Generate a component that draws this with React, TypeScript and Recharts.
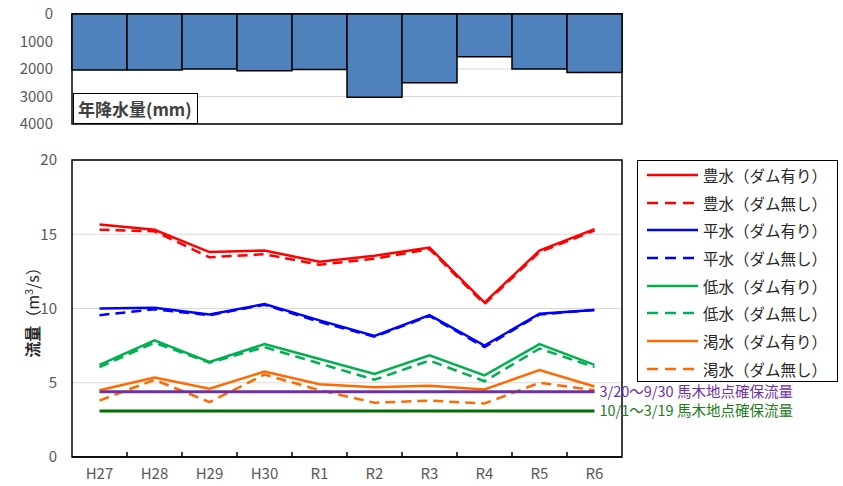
import { BarChart, Bar, LineChart, Line, XAxis, YAxis, CartesianGrid, ReferenceArea, Label } from "recharts";

const years = ["H27", "H28", "H29", "H30", "R1", "R2", "R3", "R4", "R5", "R6"];
const rainfall = [2040, 2040, 2000, 2060, 2020, 3030, 2500, 1550, 2000, 2130];

const hosuiDam = [15.65, 15.3, 13.8, 13.9, 13.15, 13.55, 14.1, 10.4, 13.9, 15.35];
const hosuiNoDam = [15.3, 15.2, 13.45, 13.65, 12.95, 13.35, 14.0, 10.3, 13.8, 15.25];
const heisuiDam = [10.0, 10.05, 9.6, 10.3, 9.2, 8.15, 9.55, 7.5, 9.65, 9.9];
const heisuiNoDam = [9.55, 9.95, 9.55, 10.25, 9.1, 8.1, 9.5, 7.4, 9.6, 9.9];
const teisuiDam = [6.2, 7.85, 6.4, 7.6, 6.6, 5.6, 6.85, 5.5, 7.6, 6.2];
const teisuiNoDam = [6.05, 7.7, 6.35, 7.4, 6.3, 5.2, 6.5, 5.1, 7.3, 6.05];
const kassuiDam = [4.5, 5.35, 4.6, 5.75, 4.9, 4.7, 4.8, 4.55, 5.85, 4.75];
const kassuiNoDam = [3.8, 5.2, 3.7, 5.55, 4.5, 3.65, 3.8, 3.6, 5.0, 4.5];

const summerFlow = 4.4;
const winterFlow = 3.1;

const rainTicks = [0, 1000, 2000, 3000, 4000];
const flowTicks = [0, 5, 10, 15, 20];

const series = [
  { key: "hosuiDam", name: "豊水（ダム有り）", values: hosuiDam, color: "#FF0000", dashed: false },
  { key: "hosuiNoDam", name: "豊水（ダム無し）", values: hosuiNoDam, color: "#FF0000", dashed: true },
  { key: "heisuiDam", name: "平水（ダム有り）", values: heisuiDam, color: "#0000FF", dashed: false },
  { key: "heisuiNoDam", name: "平水（ダム無し）", values: heisuiNoDam, color: "#0000FF", dashed: true },
  { key: "teisuiDam", name: "低水（ダム有り）", values: teisuiDam, color: "#00B050", dashed: false },
  { key: "teisuiNoDam", name: "低水（ダム無し）", values: teisuiNoDam, color: "#00B050", dashed: true },
  { key: "kassuiDam", name: "渇水（ダム有り）", values: kassuiDam, color: "#FF6A00", dashed: false },
  { key: "kassuiNoDam", name: "渇水（ダム無し）", values: kassuiNoDam, color: "#FF6A00", dashed: true },
];

const rainData = years.map((year, i) => ({ year, rain: rainfall[i] }));

const flowData = years.map((year, i) => {
  const row: any = { year, summer: summerFlow, winter: winterFlow };
  series.forEach((s) => {
    row[s.key] = s.values[i];
  });
  return row;
});

const FONT = "'Noto Sans CJK JP', 'Noto Sans', sans-serif";
const TICK_COLOR = "#595959";

const YearTick = (props: any) => {
  const { x, y, payload, index } = props;
  const half = payload.offset || 0;
  return (
    <g>
      {index < years.length - 1 && (
        <line x1={x + half} x2={x + half} y1={y} y2={y - 5} stroke="#000" strokeWidth={1.5} />
      )}
      <text x={x} y={y + 11} dy="0.71em" textAnchor="middle" fill={TICK_COLOR} fontSize={15} fontFamily={FONT}>
        {payload.value}
      </text>
    </g>
  );
};

const endLabel = (text: string, color: string) => (props: any) => {
  const { x, y, index } = props;
  if (index !== years.length - 1) return <g />;
  return (
    <text x={x + 5} y={y} dy="0.35em" fill={color} fontSize={14.5} fontFamily={FONT}>
      {text}
    </text>
  );
};

const AxisTitle = (props: any) => {
  const { viewBox } = props;
  const cy = viewBox.y + viewBox.height / 2;
  const cx = 33;
  return (
    <text
      x={cx}
      y={cy}
      transform={`rotate(-90 ${cx} ${cy})`}
      textAnchor="middle"
      dy="0.35em"
      fill="#262626"
      fontSize={16}
      fontFamily={FONT}
    >
      <tspan fontWeight={700}>流量</tspan>
      <tspan>（m</tspan>
      <tspan fontSize={11} dy="-6">3</tspan>
      <tspan dy="6">/s）</tspan>
    </text>
  );
};

const LegendBox = () => (
  <div
    style={{
      position: "absolute",
      left: 637,
      top: 160,
      width: 201,
      height: 222,
      border: "1.5px solid #000",
      boxSizing: "border-box",
      background: "#fff",
      fontFamily: FONT,
    }}
  >
    {series.map((s) => (
      <div key={s.key} style={{ height: 27.7, display: "flex", alignItems: "center" }}>
        <svg width={65} height={10} style={{ flex: "none" }}>
          <line
            x1={9}
            x2={60}
            y1={5}
            y2={5}
            stroke={s.color}
            strokeWidth={2.5}
            strokeDasharray={s.dashed ? "11 7" : undefined}
          />
        </svg>
        <span style={{ fontSize: 15.5, color: "#262626", whiteSpace: "nowrap" }}>{s.name}</span>
      </div>
    ))}
  </div>
);

export default function App() {
  return (
    <div style={{ position: "absolute", left: 0, top: 0, width: 843, height: 486, background: "#fff" }}>
      <div style={{ position: "absolute", left: 0, top: 0 }}>
        <BarChart
          width={630}
          height={136}
          data={rainData}
          margin={{ top: 14, right: 8, bottom: 12, left: 0 }}
          barCategoryGap={0}
        >
          <CartesianGrid horizontal vertical={false} stroke="#D9D9D9" strokeWidth={1.2} />
          <XAxis dataKey="year" hide />
          <YAxis
            reversed
            domain={[0, 4000]}
            ticks={rainTicks}
            width={72}
            tickLine={false}
            tickSize={0}
            tickMargin={19}
            axisLine={false}
            tick={{ fill: TICK_COLOR, fontSize: 15, fontFamily: FONT }}
          />
          <Bar dataKey="rain" fill="#4F81BD" stroke="#000" strokeWidth={1.5} isAnimationActive={false} />
          <ReferenceArea y1={0} y2={4000} fill="none" stroke="#000" strokeWidth={1.5} ifOverflow="visible" />
        </BarChart>
      </div>
      <div
        style={{
          position: "absolute",
          left: 73,
          top: 93,
          width: 125,
          height: 31,
          border: "1.5px solid #000",
          boxSizing: "border-box",
          background: "#fff",
          fontFamily: FONT,
          fontWeight: 700,
          fontSize: 17,
          color: "#404040",
          display: "flex",
          alignItems: "center",
          paddingLeft: 4,
          whiteSpace: "nowrap",
        }}
      >
        年降水量(mm)
      </div>

      <div style={{ position: "absolute", left: 0, top: 140 }}>
        <LineChart
          width={843}
          height={346}
          data={flowData}
          margin={{ top: 20, right: 221, bottom: 0, left: 0 }}
        >
          <CartesianGrid horizontal vertical={false} stroke="#D9D9D9" strokeWidth={1.2} />
          <XAxis
            dataKey="year"
            scale="band"
            height={29}
            tickLine={false}
            tickSize={0}
            tickMargin={0}
            axisLine={{ stroke: "#000", strokeWidth: 1.5 }}
            tick={<YearTick />}
            interval={0}
          />
          <YAxis
            domain={[0, 20]}
            ticks={flowTicks}
            width={72}
            tickLine={false}
            tickSize={0}
            tickMargin={15}
            axisLine={false}
            tick={{ fill: TICK_COLOR, fontSize: 15, fontFamily: FONT }}
          >
            <Label content={<AxisTitle />} />
          </YAxis>
          <ReferenceArea y1={0} y2={20} fill="none" stroke="#000" strokeWidth={1.5} ifOverflow="visible" />
          {series.map((s) => (
            <Line
              key={s.key}
              dataKey={s.key}
              stroke={s.color}
              strokeWidth={2.5}
              strokeDasharray={s.dashed ? "10 6" : undefined}
              dot={false}
              activeDot={false}
              isAnimationActive={false}
            />
          ))}
          <Line
            dataKey="summer"
            stroke="#7030A0"
            strokeWidth={3}
            dot={false}
            activeDot={false}
            isAnimationActive={false}
            label={endLabel("3/20～9/30 馬木地点確保流量", "#7030A0")}
          />
          <Line
            dataKey="winter"
            stroke="#006E00"
            strokeWidth={3}
            dot={false}
            activeDot={false}
            isAnimationActive={false}
            label={endLabel("10/1～3/19 馬木地点確保流量", "#1E7B1E")}
          />
        </LineChart>
      </div>
      <LegendBox />
    </div>
  );
}
